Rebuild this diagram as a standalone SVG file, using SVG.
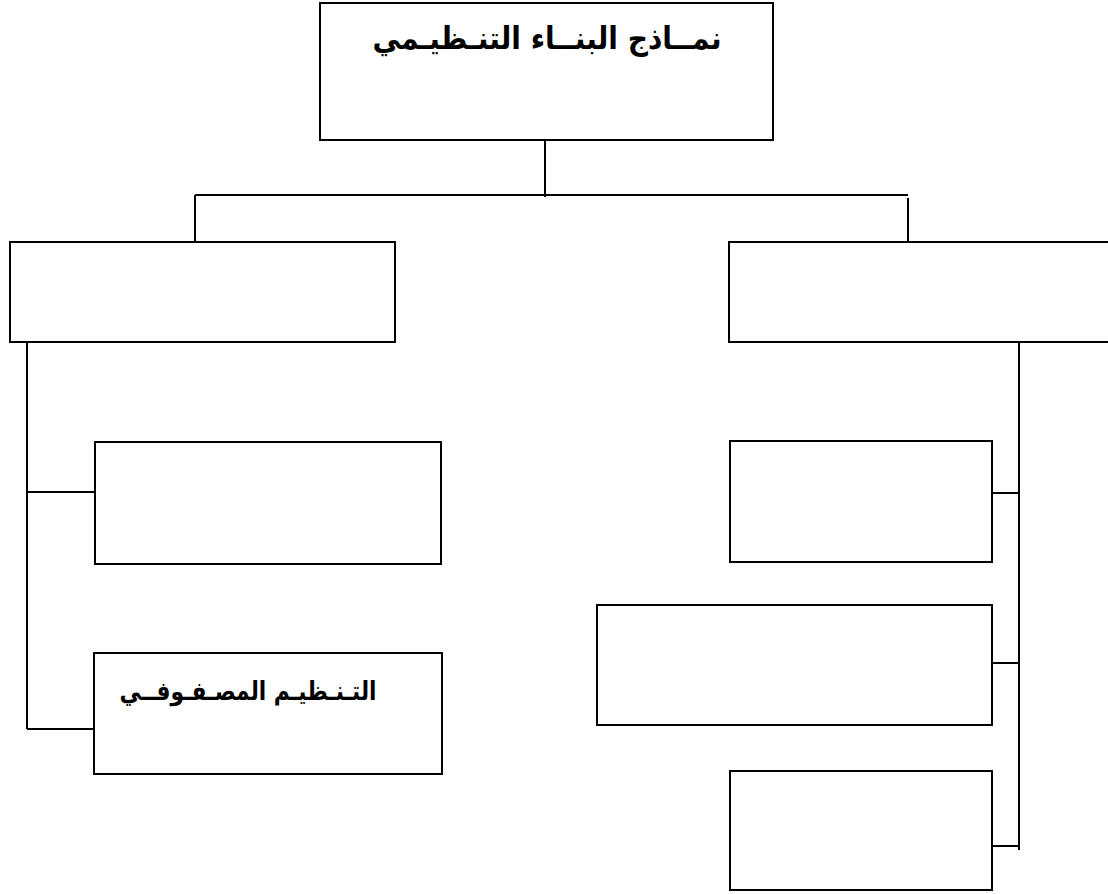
<svg xmlns="http://www.w3.org/2000/svg" width="1108" height="894" viewBox="0 0 1108 894">
<style>
.box{fill:#fff;stroke:#000;stroke-width:2}
.ln{stroke:#000;stroke-width:2;fill:none}
.t{font-family:"DejaVu Sans","Noto Sans",sans-serif;font-weight:bold;fill:#000;text-anchor:middle}
</style>
<rect width="1108" height="894" fill="#fff"/>
<g id="connectors">
<line class="ln" x1="545" y1="140" x2="545" y2="197"/>
<line class="ln" x1="195" y1="195" x2="908" y2="195"/>
<line class="ln" x1="195" y1="195" x2="195" y2="243"/>
<line class="ln" x1="908" y1="198" x2="908" y2="243"/>
<line class="ln" x1="27" y1="339" x2="27" y2="729"/>
<line class="ln" x1="27" y1="492" x2="95" y2="492"/>
<line class="ln" x1="27" y1="729" x2="95" y2="729"/>
<line class="ln" x1="1019" y1="339" x2="1019" y2="850"/>
<line class="ln" x1="992" y1="493" x2="1019" y2="493"/>
<line class="ln" x1="992" y1="663" x2="1019" y2="663"/>
<line class="ln" x1="992" y1="846" x2="1019" y2="846"/>
</g>
<g id="root">
<rect class="box" x="320" y="3" width="453" height="137"/>
<text class="t" x="547" y="49" font-size="31" textLength="349" lengthAdjust="spacingAndGlyphs">نمــاذج البنــاء التنـظيـمي</text>
</g>
<g id="left-top"><rect class="box" x="10" y="242" width="385" height="100"/></g>
<g id="right-top"><rect class="box" x="729" y="242" width="390" height="100"/></g>
<g id="left-1"><rect class="box" x="95" y="442" width="346" height="122"/></g>
<g id="left-2">
<rect class="box" x="94" y="653" width="348" height="121"/>
<text class="t" x="248" y="700" font-size="26" textLength="257" lengthAdjust="spacingAndGlyphs">التـنـظيـم المصـفـوفــي</text>
</g>
<g id="right-1"><rect class="box" x="730" y="441" width="262" height="121"/></g>
<g id="right-2"><rect class="box" x="597" y="605" width="395" height="120"/></g>
<g id="right-3"><rect class="box" x="730" y="771" width="262" height="119"/></g>
</svg>
